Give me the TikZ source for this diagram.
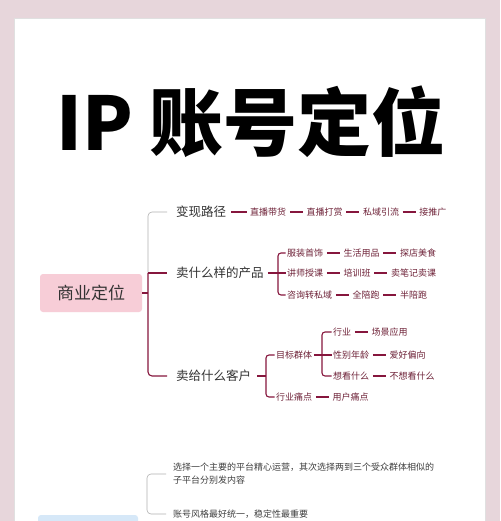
\documentclass[tikz,border=0pt]{standalone}
\usepackage{fontspec}
\setmainfont{Noto Sans CJK SC}
\usetikzlibrary{positioning}
\definecolor{bgpink}{HTML}{E7D6DB}
\definecolor{rootpink}{HTML}{F7CDD7}
\definecolor{linered}{HTML}{86163D}
\definecolor{leafred}{HTML}{6E2238}
\definecolor{lightblue}{HTML}{D6E8F8}
\tikzset{
  rootbox/.style={fill=rootpink, rounded corners=3pt, minimum width=102pt, minimum height=38pt,
    inner sep=0pt, text=black!80, font=\fontsize{17}{18}\selectfont},
  lvone/.style={anchor=west, inner sep=3pt, text=black!80, font=\fontsize{12.5}{14}\selectfont},
  leaf/.style={inner sep=1.5pt, text=leafred, font=\fontsize{9}{10}\selectfont},
  note/.style={anchor=west, inner sep=3pt, align=left, text=black!75, font=\fontsize{9}{13}\selectfont},
  redline/.style={draw=linered, line width=1.1pt},
  greyline/.style={draw=black!30, line width=0.6pt},
  link/.style={redline, shorten <=2pt, shorten >=2pt}
}
\begin{document}
\begin{tikzpicture}[x=1pt,y=-1pt,node distance=17pt]
\useasboundingbox (0,0) rectangle (500,521);
\fill[bgpink] (0,0) rectangle (500,521);
\fill[white] (14,18) rectangle (485,530);
\draw[black!12] (14,530) -- (14,18) -- (485,18) -- (485,530);

\node (title) at (251,122) {\fontsize{74}{78}\selectfont\bfseries IP 账号定位};

% business positioning
\coordinate (bxa) at (148,0);
\node[rootbox] (root) at (91,293) {商业定位};
\node[lvone] (v1) at (173,212) {变现路径};
\node[lvone] (v2) at (173,273) {卖什么样的产品};
\node[lvone] (v3) at (173,376) {卖给什么客户};
\draw[greyline,rounded corners=4pt,shorten <=6pt] (v1.west) -- (v1.west -| bxa) -- (v2.west -| bxa);
\draw[redline,rounded corners=4pt,shorten >=6pt] (v2.west -| bxa) -- (v3.west -| bxa) -- (v3.west);
\draw[redline,shorten >=6pt] (v2.west -| bxa) -- (v2.west);
\draw[redline] (root.east) -- (root.east -| bxa);

\node[leaf,anchor=west] (m1) at (248.5,212) {直播带货};
\node[leaf,right=of m1] (m2) {直播打赏};
\node[leaf,right=of m2] (m3) {私域引流};
\node[leaf,right=of m3] (m4) {接推广};
\draw[link] (v1) -- (m1);
\foreach \a/\b in {m1/m2,m2/m3,m3/m4} \draw[link] (\a) -- (\b);

\coordinate (bxp) at (278,0);
\node[leaf,anchor=west] (p1) at (285.5,253) {服装首饰};
\node[leaf,right=of p1] (p1b) {生活用品};
\node[leaf,right=of p1b] (p1c) {探店美食};
\node[leaf,anchor=west] (p2) at (285.5,273) {讲师授课};
\node[leaf,right=of p2] (p2b) {培训班};
\node[leaf,right=of p2b] (p2c) {卖笔记卖课};
\node[leaf,anchor=west] (p3) at (285.5,295) {咨询转私域};
\node[leaf,right=of p3] (p3b) {全陪跑};
\node[leaf,right=of p3b] (p3c) {半陪跑};
\draw[redline,shorten <=1pt] (v2.east) -- (v2.east -| bxp);
\draw[redline,rounded corners=3pt] (p1.west) -- (p1.west -| bxp) -- (p3.west -| bxp) -- (p3.west);
\draw[redline] (p2.west -| bxp) -- (p2.west);
\foreach \a/\b in {p1/p1b,p1b/p1c,p2/p2b,p2b/p2c,p3/p3b,p3b/p3c} \draw[link] (\a) -- (\b);

\coordinate (bxc) at (266,0);
\coordinate (bxt) at (322,0);
\node[leaf,anchor=west] (c1) at (274.5,355) {目标群体};
\node[leaf,anchor=west] (c2) at (274.5,397) {行业痛点};
\node[leaf,right=of c2] (c2b) {用户痛点};
\node[leaf,anchor=west] (t1) at (331.5,332) {行业};
\node[leaf,right=of t1] (t1b) {场景应用};
\node[leaf,anchor=west] (t2) at (331.5,355) {性别年龄};
\node[leaf,right=of t2] (t2b) {爱好偏向};
\node[leaf,anchor=west] (t3) at (331.5,376) {想看什么};
\node[leaf,right=of t3] (t3b) {不想看什么};
\draw[redline,shorten <=3pt] (v3.east) -- (v3.east -| bxc);
\draw[redline,rounded corners=3pt] (c1.west) -- (c1.west -| bxc) -- (c2.west -| bxc) -- (c2.west);
\draw[redline] (c1.east) -- (c1.east -| bxt);
\draw[redline,rounded corners=3pt] (t1.west) -- (t1.west -| bxt) -- (t3.west -| bxt) -- (t3.west);
\draw[redline] (t2.west -| bxt) -- (t2.west);
\foreach \a/\b in {c2/c2b,t1/t1b,t2/t2b,t3/t3b} \draw[link] (\a) -- (\b);

% platform section
\coordinate (bxb) at (147,0);
\node[fill=lightblue, rounded corners=3pt, minimum width=100pt, minimum height=30pt] (root2) at (88,530) {};
\node[note] (n1) at (170,474) {选择一个主要的平台精心运营，其次选择两到三个受众群体相似的\\子平台分别发内容};
\node[note] (n2) at (170,514) {账号风格最好统一，稳定性最重要};
\draw[greyline,rounded corners=4pt,shorten <=4pt,shorten >=4pt] (n1.west) -- (n1.west -| bxb) -- (n2.west -| bxb) -- (n2.west);
\draw[greyline] (root2.east) -- (root2.east -| bxb);
\end{tikzpicture}
\end{document}
